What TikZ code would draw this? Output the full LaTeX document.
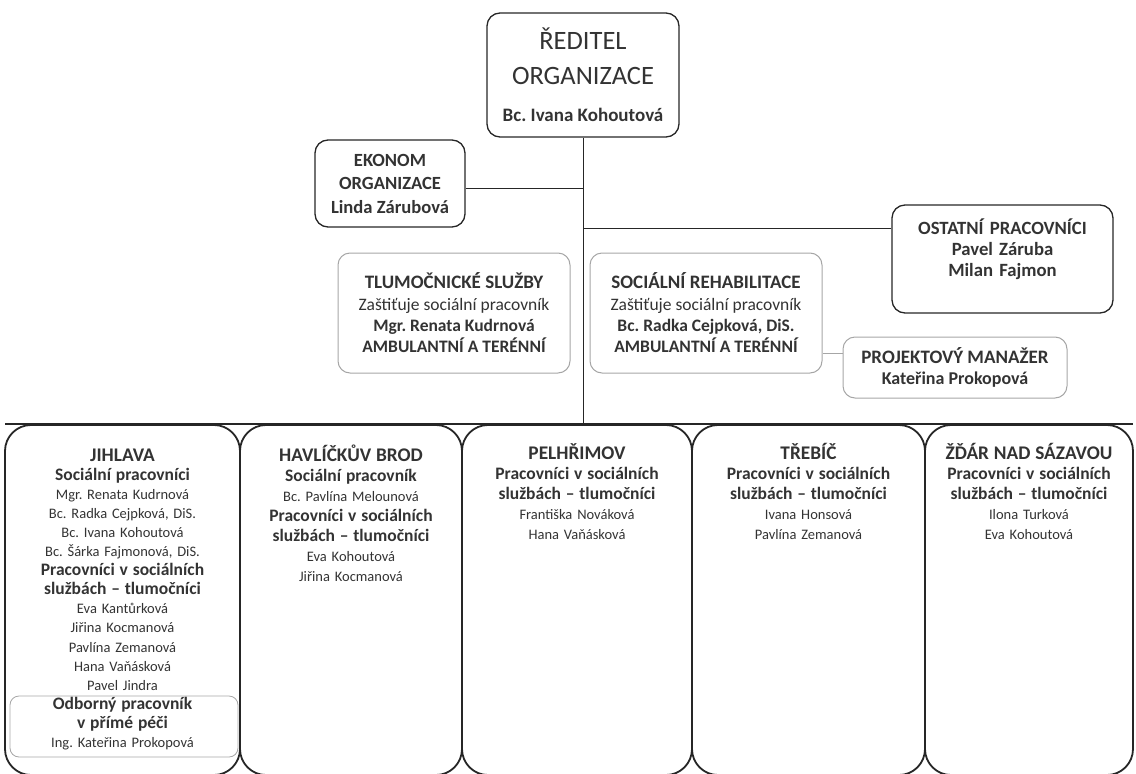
\documentclass[tikz,border=0pt]{standalone}
\usepackage{fontspec}
\setmainfont{Carlito}
\frenchspacing
\newcommand{\headfont}{\fontsize{19.3}{21}\selectfont\bfseries}
\newcommand{\subfont}{\fontsize{17.5}{21}\selectfont\bfseries}
\newcommand{\namefont}{\fontsize{14.5}{20}\selectfont}

\begin{document}
\begin{tikzpicture}[x=1pt,y=-1pt,
  box/.style={draw=black!85, line width=1.3pt, rounded corners=13pt, text=black!80, align=center},
  greybox/.style={draw=black!35, line width=1pt, rounded corners=12pt, text=black!80, align=center},
  branch/.style={draw=black!85, line width=1.8pt, rounded corners=26pt}]
  \tikzset{line/.style = {draw=black!85, line width=1pt}}
  \tikzset{txt/.style = {text=black!80, align=center, inner sep=0pt, anchor=base}}
  \useasboundingbox (0,0) rectangle (1136,774);

  % top of the chart
  \node[box, minimum width=192pt, minimum height=124pt, font=\fontsize{26.5}{35}\selectfont] (reditel) at (583,75)
    {ŘEDITEL\\ORGANIZACE\\[2pt]{\fontsize{19}{20}\selectfont\bfseries Bc. Ivana Kohoutová}};

  \node[box, minimum width=150pt, minimum height=87pt, font=\fontsize{18.6}{23.5}\selectfont\bfseries] (ekonom) at (390,183.5)
    {EKONOM\\ORGANIZACE\\Linda Zárubová};

  \node[box, minimum width=221pt, minimum height=108pt] (ostatni) at (1002.5,259) {};
  \node[txt, text width=215pt, font=\fontsize{18.7}{21}\selectfont\bfseries] (ostatni text) at (1002.5,234)
    {OSTATNÍ PRACOVNÍCI\\Pavel Záruba\\Milan Fajmon};

  \node[greybox, minimum width=232pt, minimum height=120pt, font=\fontsize{17.5}{21.3}\selectfont] (tlumoc) at (454,313)
    {{\fontsize{19}{21}\selectfont\bfseries TLUMOČNICKÉ SLUŽBY}\\Zaštiťuje sociální pracovník\\{\bfseries Mgr. Renata Kudrnová}\\{\bfseries AMBULANTNÍ A TERÉNNÍ}};
  \node[greybox, minimum width=232pt, minimum height=120pt, font=\fontsize{17.5}{21.3}\selectfont] (rehab) at (706,313)
    {{\fontsize{19}{21}\selectfont\bfseries SOCIÁLNÍ REHABILITACE}\\Zaštiťuje sociální pracovník\\{\bfseries Bc. Radka Cejpková, DiS.}\\{\bfseries AMBULANTNÍ A TERÉNNÍ}};

  \node[greybox, minimum width=224pt, minimum height=61pt, font=\fontsize{19}{20.5}\selectfont\bfseries] (projekt) at (955,367.5)
    {PROJEKTOVÝ MANAŽER\\{\fontsize{18}{20}\selectfont Kateřina Prokopová}};

  % branches
  \node[branch, minimum width=235pt, minimum height=350pt] (jihlava) at (122.5,600) {};
  \node[branch, minimum width=222pt, minimum height=350pt] (brod) at (351,600) {};
  \node[branch, minimum width=230pt, minimum height=350pt] (pelhrimov) at (577,600) {};
  \node[branch, minimum width=233pt, minimum height=350pt] (trebic) at (808.5,600) {};
  \node[branch, minimum width=208pt, minimum height=350pt] (zdar) at (1029,600) {};

  \node[draw=black!35, line width=0.8pt, rounded corners=9pt, minimum width=228pt, minimum height=61pt] (odborny) at (124,726.5) {};

  \node[txt, text width=228pt, font=\fontsize{14.5}{19.1}\selectfont] (jihlava text) at (122.5,461)
    {{\headfont JIHLAVA}\\{\subfont Sociální pracovníci}\\Mgr. Renata Kudrnová\\Bc. Radka Cejpková, DiS.\\Bc. Ivana Kohoutová\\Bc. Šárka Fajmonová, DiS.\\{\subfont Pracovníci v sociálních}\\{\subfont službách – tlumočníci}\\Eva Kantůrková\\Jiřina Kocmanová\\Pavlína Zemanová\\Hana Vaňásková\\Pavel Jindra\\{\subfont Odborný pracovník}\\{\subfont v přímé péči}\\Ing. Kateřina Prokopová};
  \node[txt, text width=215pt, font=\namefont] (brod text) at (351,461)
    {{\headfont HAVLÍČKŮV BROD}\\{\subfont Sociální pracovník}\\Bc. Pavlína Melounová\\{\subfont Pracovníci v sociálních}\\{\subfont službách – tlumočníci}\\Eva Kohoutová\\Jiřina Kocmanová};
  \node[txt, text width=222pt, font=\namefont] (pelhrimov text) at (577,459)
    {{\headfont PELHŘIMOV}\\{\subfont Pracovníci v sociálních}\\{\subfont službách – tlumočníci}\\Františka Nováková\\Hana Vaňásková};
  \node[txt, text width=225pt, font=\namefont] (trebic text) at (808.5,459)
    {{\headfont TŘEBÍČ}\\{\subfont Pracovníci v sociálních}\\{\subfont službách – tlumočníci}\\Ivana Honsová\\Pavlína Zemanová};
  \node[txt, text width=200pt, font=\namefont] (zdar text) at (1029,459)
    {{\headfont ŽĎÁR NAD SÁZAVOU}\\{\subfont Pracovníci v sociálních}\\{\subfont službách – tlumočníci}\\Ilona Turková\\Eva Kohoutová};

  % connectors
  \coordinate (bus) at (reditel.south |- pelhrimov.north);
  \coordinate (ek out) at ([yshift=-4.5pt]ekonom.east);
  \coordinate (op in) at ([yshift=31pt]ostatni.west);
  \coordinate (pm in) at ([yshift=14.5pt]projekt.west);

  \draw[branch] ([xshift=0.9pt]jihlava.north west) -- ([xshift=-0.9pt]zdar.north east);
  \draw[line] (reditel.south) -- (bus);
  \draw[line] (ek out) -- (ek out -| reditel.south);
  \draw[line] (op in) -- (op in -| reditel.south);
  \draw[line, draw=black!35] (pm in) -- (pm in -| rehab.east);
\end{tikzpicture}
\end{document}
